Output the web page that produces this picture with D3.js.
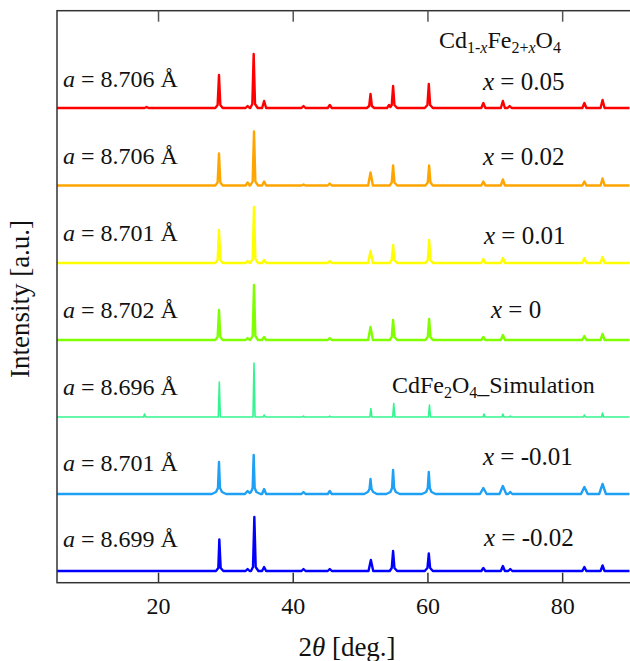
<!DOCTYPE html>
<html><head><meta charset="utf-8">
<script src="https://cdn.jsdelivr.net/npm/d3@7"></script>
<style>body{margin:0;background:#fff}svg{display:block}text{font-family:"Liberation Serif","Times New Roman",serif;fill:#111}</style>
</head><body><svg id="c" width="630" height="661"></svg>
<script>
// ---- data ----
const xTicks = [20, 40, 60, 80];
const seriesNames = ["x = 0.05", "x = 0.02", "x = 0.01", "x = 0", "CdFe2O4_Simulation", "x = -0.01", "x = -0.02"];
const latticeLabels = ["8.706", "8.706", "8.701", "8.702", "8.696", "8.701", "8.699"];
const seriesColors = ["#ff0000", "#ffa500", "#ffff00", "#7fff00", "#33f58f", "#1ea0f5", "#0000ff"];
const offsets = [463, 385.5, 308, 231, 154, 77, 0];

const redX005 = [[5,0],[18.0,0],[18.3,1],[18.6,0],[28.5,0],[28.85,3],[29.05,33],[29.25,3],[29.6,0],
 [33.0,0],[33.3,2],[33.6,0],[33.7,0],[34.0,4],[34.2,54],[34.4,4],[34.8,0],[35.45,0],[35.75,7],[36.05,0],
 [41.3,0],[41.6,2],[41.9,0],[45.2,0],[45.5,3],[45.8,0],[51.0,0],[51.35,2],[51.55,14],[51.75,2],[52.1,0],
 [54.0,0],[54.3,3],[54.5,1],[54.7,3],[54.9,22],[55.1,3],[55.5,0],[59.6,0],[60.0,3],[60.2,24],[60.4,3],[60.8,0],
 [68.0,0],[68.3,5],[68.6,0],[70.9,0],[71.2,7],[71.5,0],[71.9,0],[72.2,2],[72.5,0],
 [83.0,0],[83.3,5],[83.6,0],[85.7,0],[86.0,8],[86.3,0],[90,0]];
const orangeX002 = [[5,0],[28.5,0],[28.85,3],[29.05,32],[29.25,3],[29.6,0],
 [33.0,0],[33.3,3],[33.6,0],[33.7,0],[34.05,4],[34.25,54],[34.45,4],[34.85,0],[35.45,0],[35.75,4],[36.05,0],
 [41.3,0],[41.6,1],[41.9,0],[45.2,0],[45.5,2],[45.8,0],[51.2,0],[51.55,13],[51.9,0],
 [54.4,0],[54.7,3],[54.9,20],[55.1,3],[55.5,0],[59.7,0],[60.05,3],[60.25,20],[60.45,3],[60.8,0],
 [68.0,0],[68.3,4],[68.6,0],[70.9,0],[71.2,6],[71.5,0],[83.0,0],[83.3,4],[83.6,0],[85.7,0],[86.0,7],[86.3,0],[90,0]];
const yellowX001 = [[5,0],[28.5,0],[28.85,3],[29.05,33],[29.25,3],[29.6,0],
 [33.0,0],[33.3,2],[33.6,0],[33.7,0],[34.05,4],[34.25,56],[34.45,4],[34.85,0],[35.45,0],[35.75,3],[36.05,0],
 [45.2,0],[45.5,2],[45.8,0],[51.2,0],[51.55,12],[51.9,0],
 [54.4,0],[54.7,3],[54.9,18],[55.1,3],[55.5,0],[59.7,0],[60.05,3],[60.25,23],[60.45,3],[60.8,0],
 [68.0,0],[68.3,4],[68.6,0],[70.9,0],[71.2,5],[71.5,0],[83.0,0],[83.3,5],[83.6,0],[85.7,0],[86.0,6],[86.3,0],[90,0]];
const greenX0 = [[5,0],[28.5,0],[28.85,3],[29.05,30],[29.25,3],[29.6,0],
 [33.0,0],[33.3,2],[33.6,0],[33.7,0],[34.05,4],[34.25,55],[34.45,4],[34.85,0],[35.45,0],[35.75,3],[36.05,0],
 [45.2,0],[45.5,2],[45.8,0],[51.2,0],[51.55,13],[51.9,0],
 [54.4,0],[54.7,3],[54.9,20],[55.1,3],[55.5,0],[59.7,0],[60.05,3],[60.25,21],[60.45,3],[60.8,0],
 [68.0,0],[68.3,3],[68.6,0],[70.9,0],[71.2,5],[71.5,0],[83.0,0],[83.3,4],[83.6,0],[85.7,0],[86.0,6],[86.3,0],[90,0]];
const simulation = [[5,0],[17.85,0],[18.0,3],[18.15,0],[28.95,0],[29.1,35],[29.25,0],[34.1,0],[34.25,54],[34.4,0],
 [35.6,0],[35.75,2],[35.9,0],[41.45,0],[41.6,1],[41.75,0],[45.35,0],[45.5,1],[45.65,0],
 [51.45,0],[51.6,8.5],[51.75,0],[54.85,0],[55.0,13.5],[55.15,0],[60.15,0],[60.3,12],[60.45,0],
 [68.25,0],[68.4,3],[68.55,0],[71.05,0],[71.2,3],[71.35,0],[72.15,0],[72.3,1],[72.45,0],
 [83.15,0],[83.3,2],[83.45,0],[85.85,0],[86.0,4],[86.15,0],[90,0]];
const lightBlueXm001 = [[5,0],[28.0,0],[28.6,2],[28.9,6],[29.05,32],[29.2,6],[29.5,2],[30.1,0],
 [32.9,0],[33.3,3],[33.6,1],[33.8,2],[34.05,6],[34.2,39],[34.35,6],[34.6,2],[35.2,0],[35.45,0],[35.75,5],[36.05,0],
 [41.3,0],[41.6,2],[41.9,0],[45.2,0],[45.5,3],[45.8,0],
 [50.6,0],[51.15,2],[51.4,5],[51.55,15],[51.7,5],[51.95,2],[52.5,0],
 [53.9,0],[54.5,2],[54.75,6],[54.9,24],[55.05,6],[55.3,2],[55.9,0],
 [59.2,0],[59.8,2],[60.05,6],[60.2,22],[60.35,6],[60.6,2],[61.2,0],
 [67.8,0],[68.3,6],[68.8,0],[70.7,0],[71.2,8],[71.7,0],[72.0,0],[72.3,2],[72.6,0],
 [82.8,0],[83.3,7],[83.8,0],[85.5,0],[86.0,10],[86.5,0],[90,0]];
const blueXm002 = [[5,0],[28.6,0],[28.95,3],[29.1,31.5],[29.3,3],[29.7,0],
 [33.0,0],[33.3,2],[33.6,0],[33.8,0],[34.1,4],[34.3,54],[34.5,4],[34.9,0],[35.45,0],[35.75,4],[36.05,0],
 [41.3,0],[41.6,2],[41.9,0],[45.2,0],[45.5,2],[45.8,0],[51.25,0],[51.6,11],[51.95,0],
 [54.4,0],[54.7,3],[54.9,20],[55.1,3],[55.5,0],[59.6,0],[60.0,3],[60.2,17.5],[60.4,3],[60.8,0],
 [68.0,0],[68.3,3],[68.6,0],[70.9,0],[71.2,5],[71.5,0],[72.0,0],[72.3,2],[72.6,0],
 [83.0,0],[83.3,4],[83.6,0],[85.7,0],[86.0,5.5],[86.3,0],[90,0]];
const seriesData = [redX005, orangeX002, yellowX001, greenX0, simulation, lightBlueXm001, blueXm002];

// ---- layout ----
const svg = d3.select("#c");
const L = 57, R = 631, T = 10.7, B = 582.7;
const x = d3.scaleLinear().domain([5, 90]).range([L, 629.5]);
const y = d3.scaleLinear().domain([-11.7, 560.3]).range([B, T]);

// traces
const line = d3.line().x(d => x(d[0])).y(d => y(d[1]));
seriesData.forEach((s, i) => {
  svg.append("path")
    .datum(s.map(p => [p[0], p[1] + offsets[i]]))
    .attr("d", line).attr("fill", "none")
    .attr("stroke", seriesColors[i])
    .attr("stroke-width", i === 4 ? 1.6 : 2.4)
    .attr("stroke-linejoin", "round");
});

// frame
svg.append("rect").attr("x", L).attr("y", T).attr("width", R - L).attr("height", B - T)
  .attr("fill", "none").attr("stroke", "#333").attr("stroke-width", 1.5);

const axB = d3.axisBottom(x).tickValues(xTicks).tickSizeInner(-10).tickSizeOuter(0).tickPadding(14);
const gB = svg.append("g").attr("transform", `translate(0,${B})`).call(axB);
gB.select(".domain").remove();
gB.selectAll("line").attr("stroke", "#333").attr("stroke-width", 1.5);
gB.selectAll("text").attr("font-size", 24).attr("font-family", "Liberation Serif").attr("fill", "#111");

const axT = d3.axisTop(x).tickValues(xTicks).tickSizeInner(-11).tickSizeOuter(0).tickFormat("");
const gT = svg.append("g").attr("transform", `translate(0,${T})`).call(axT);
gT.select(".domain").remove();
gT.selectAll("line").attr("stroke", "#555").attr("stroke-width", 1.5);

// lattice labels
const labelBase = [87, 164, 241, 318, 395, 471, 547];
latticeLabels.forEach((v, i) => {
  const t = svg.append("text").attr("x", 63).attr("y", labelBase[i]).attr("font-size", 24);
  t.append("tspan").attr("font-style", "italic").text("a");
  t.append("tspan").text(" = " + v + " Å");
});

// right labels
const rightX = [483, 483, 484, 491, 392, 483, 484];
const rightY = [90, 165, 244, 318, 393, 465, 546];
seriesNames.forEach((n, i) => {
  const t = svg.append("text").attr("x", rightX[i]).attr("y", rightY[i]).attr("font-size", 25);
  if (i === 4) {
    t.attr("font-size", 24);
    t.append("tspan").text("CdFe");
    t.append("tspan").attr("font-size", 16).attr("dy", 5).text("2");
    t.append("tspan").attr("dy", -5).text("O");
    t.append("tspan").attr("font-size", 16).attr("dy", 5).text("4");
    t.append("tspan").attr("dy", -5).text("_Simulation");
  } else {
    t.append("tspan").attr("font-style", "italic").text("x");
    t.append("tspan").text(n.slice(1));
  }
});

// title
const tt = svg.append("text").attr("x", 439).attr("y", 48).attr("font-size", 24);
tt.append("tspan").text("Cd");
tt.append("tspan").attr("font-size", 16).attr("dy", 5).text("1-");
tt.append("tspan").attr("font-size", 16).attr("font-style", "italic").text("x");
tt.append("tspan").attr("dy", -5).text("Fe");
tt.append("tspan").attr("font-size", 16).attr("dy", 5).text("2+");
tt.append("tspan").attr("font-size", 16).attr("font-style", "italic").text("x");
tt.append("tspan").attr("dy", -5).text("O");
tt.append("tspan").attr("font-size", 16).attr("dy", 5).text("4");

// axis titles
const xt = svg.append("text").attr("x", 347).attr("y", 656).attr("text-anchor", "middle").attr("font-size", 27);
xt.append("tspan").text("2");
xt.append("tspan").attr("font-style", "italic").text("θ");
xt.append("tspan").text(" [deg.]");
svg.append("text").attr("transform", "translate(29,299) rotate(-90)").attr("text-anchor", "middle")
  .attr("font-size", 27).text("Intensity [a.u.]");
</script></body></html>
